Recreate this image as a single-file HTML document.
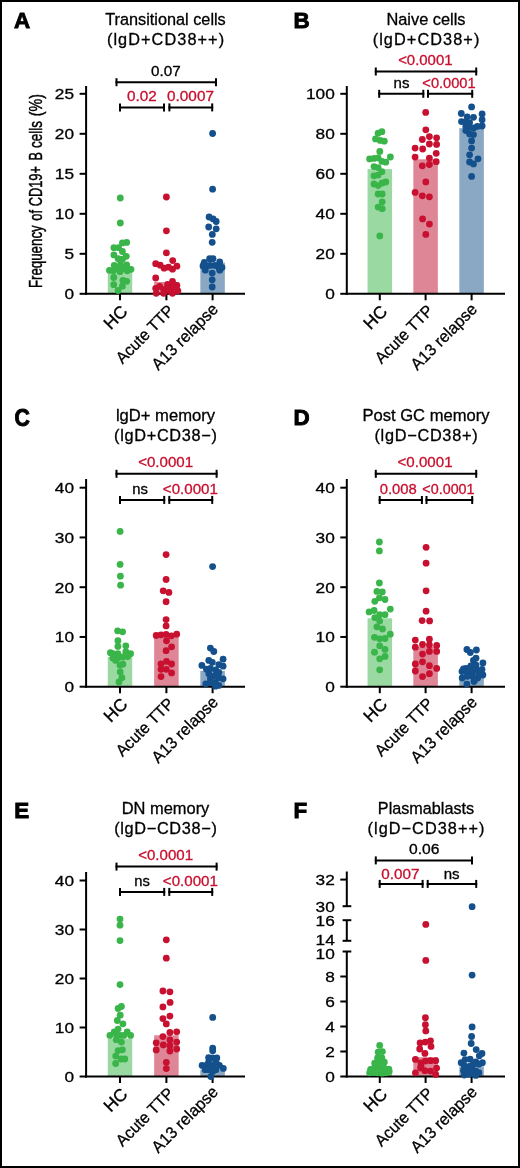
<!DOCTYPE html>
<html><head><meta charset="utf-8"><style>
html,body{margin:0;padding:0;background:#fff;}
body{width:520px;height:1168px;overflow:hidden;}
svg{display:block;will-change:transform;}
text{font-family:"Liberation Sans", sans-serif;}
text:not([stroke]){stroke:#000;stroke-width:0.3px;}
text[fill="#c8102e"]{stroke:#c8102e;}
</style></head><body>
<svg width="520" height="1168" viewBox="0 0 520 1168" font-family='"Liberation Sans", sans-serif'>
<rect x="0" y="0" width="520" height="1168" fill="#fff"/>
<text x="14.10" y="28.20" font-size="22.4" font-weight="bold" stroke="#000" stroke-width="0.9">A</text>
<text x="165.50" y="25.00" font-size="16.3" text-anchor="middle" textLength="120.5" lengthAdjust="spacingAndGlyphs">Transitional cells</text>
<text x="165.50" y="45.00" font-size="16.3" text-anchor="middle" textLength="117.2" lengthAdjust="spacing">(lgD+CD38++)</text>
<rect x="107.75" y="271.00" width="24.50" height="22.80" fill="#9bd9a2"/>
<rect x="154.15" y="282.00" width="24.50" height="11.80" fill="#de8696"/>
<rect x="200.35" y="262.50" width="24.50" height="31.30" fill="#8aa8c4"/>
<line x1="86.10" y1="86.00" x2="86.10" y2="294.80" stroke="#000" stroke-width="2"/>
<line x1="79.60" y1="293.80" x2="86.10" y2="293.80" stroke="#000" stroke-width="2"/>
<text x="74.10" y="299.30" font-size="15.5" text-anchor="end" textLength="9.61" lengthAdjust="spacingAndGlyphs">0</text>
<line x1="79.60" y1="253.80" x2="86.10" y2="253.80" stroke="#000" stroke-width="2"/>
<text x="74.10" y="259.30" font-size="15.5" text-anchor="end" textLength="9.61" lengthAdjust="spacingAndGlyphs">5</text>
<line x1="79.60" y1="213.80" x2="86.10" y2="213.80" stroke="#000" stroke-width="2"/>
<text x="74.10" y="219.30" font-size="15.5" text-anchor="end" textLength="19.22" lengthAdjust="spacingAndGlyphs">10</text>
<line x1="79.60" y1="173.80" x2="86.10" y2="173.80" stroke="#000" stroke-width="2"/>
<text x="74.10" y="179.30" font-size="15.5" text-anchor="end" textLength="19.22" lengthAdjust="spacingAndGlyphs">15</text>
<line x1="79.60" y1="133.80" x2="86.10" y2="133.80" stroke="#000" stroke-width="2"/>
<text x="74.10" y="139.30" font-size="15.5" text-anchor="end" textLength="19.22" lengthAdjust="spacingAndGlyphs">20</text>
<line x1="79.60" y1="93.80" x2="86.10" y2="93.80" stroke="#000" stroke-width="2"/>
<text x="74.10" y="99.30" font-size="15.5" text-anchor="end" textLength="19.22" lengthAdjust="spacingAndGlyphs">25</text>
<line x1="85.10" y1="293.80" x2="245.00" y2="293.80" stroke="#000" stroke-width="2"/>
<line x1="120.00" y1="293.80" x2="120.00" y2="300.30" stroke="#000" stroke-width="2"/>
<line x1="166.40" y1="293.80" x2="166.40" y2="300.30" stroke="#000" stroke-width="2"/>
<line x1="212.60" y1="293.80" x2="212.60" y2="300.30" stroke="#000" stroke-width="2"/>
<text x="128.60" y="312.50" font-size="17.5" text-anchor="end"  transform="rotate(-45 128.60 312.50)">HC</text>
<text x="175.10" y="311.80" font-size="16.5" text-anchor="end" textLength="74.5" lengthAdjust="spacingAndGlyphs" transform="rotate(-45 175.10 311.80)">Acute TTP</text>
<text x="219.10" y="310.20" font-size="16.5" text-anchor="end" textLength="86" lengthAdjust="spacingAndGlyphs" transform="rotate(-45 219.10 310.20)">A13 relapse</text>
<circle cx="120.30" cy="198.00" r="3.4" fill="#39b54a"/>
<circle cx="120.30" cy="223.00" r="3.4" fill="#39b54a"/>
<circle cx="120.50" cy="264.50" r="3.4" fill="#39b54a"/>
<circle cx="126.70" cy="242.40" r="3.4" fill="#39b54a"/>
<circle cx="122.40" cy="242.90" r="3.4" fill="#39b54a"/>
<circle cx="113.90" cy="247.70" r="3.4" fill="#39b54a"/>
<circle cx="118.60" cy="247.70" r="3.4" fill="#39b54a"/>
<circle cx="122.40" cy="251.50" r="3.4" fill="#39b54a"/>
<circle cx="113.90" cy="254.90" r="3.4" fill="#39b54a"/>
<circle cx="126.25" cy="256.30" r="3.4" fill="#39b54a"/>
<circle cx="118.10" cy="258.75" r="3.4" fill="#39b54a"/>
<circle cx="122.40" cy="259.20" r="3.4" fill="#39b54a"/>
<circle cx="114.20" cy="265.50" r="3.4" fill="#39b54a"/>
<circle cx="126.70" cy="265.00" r="3.4" fill="#39b54a"/>
<circle cx="109.40" cy="270.30" r="3.4" fill="#39b54a"/>
<circle cx="131.00" cy="269.30" r="3.4" fill="#39b54a"/>
<circle cx="113.30" cy="270.80" r="3.4" fill="#39b54a"/>
<circle cx="118.10" cy="268.80" r="3.4" fill="#39b54a"/>
<circle cx="122.90" cy="268.80" r="3.4" fill="#39b54a"/>
<circle cx="127.20" cy="270.80" r="3.4" fill="#39b54a"/>
<circle cx="120.00" cy="271.70" r="3.4" fill="#39b54a"/>
<circle cx="113.75" cy="277.50" r="3.4" fill="#39b54a"/>
<circle cx="122.90" cy="280.40" r="3.4" fill="#39b54a"/>
<circle cx="126.70" cy="281.30" r="3.4" fill="#39b54a"/>
<circle cx="113.75" cy="284.70" r="3.4" fill="#39b54a"/>
<circle cx="122.40" cy="286.20" r="3.4" fill="#39b54a"/>
<circle cx="118.10" cy="290.50" r="3.4" fill="#39b54a"/>
<circle cx="166.40" cy="197.00" r="3.4" fill="#c81030"/>
<circle cx="166.40" cy="230.80" r="3.4" fill="#c81030"/>
<circle cx="166.40" cy="252.90" r="3.4" fill="#c81030"/>
<circle cx="172.70" cy="260.60" r="3.4" fill="#c81030"/>
<circle cx="155.70" cy="263.70" r="3.4" fill="#c81030"/>
<circle cx="160.20" cy="265.20" r="3.4" fill="#c81030"/>
<circle cx="164.10" cy="268.20" r="3.4" fill="#c81030"/>
<circle cx="168.50" cy="267.20" r="3.4" fill="#c81030"/>
<circle cx="172.50" cy="269.20" r="3.4" fill="#c81030"/>
<circle cx="176.90" cy="266.20" r="3.4" fill="#c81030"/>
<circle cx="155.70" cy="278.00" r="3.4" fill="#c81030"/>
<circle cx="172.50" cy="281.50" r="3.4" fill="#c81030"/>
<circle cx="167.60" cy="284.40" r="3.4" fill="#c81030"/>
<circle cx="176.90" cy="285.40" r="3.4" fill="#c81030"/>
<circle cx="155.70" cy="288.30" r="3.4" fill="#c81030"/>
<circle cx="159.70" cy="286.40" r="3.4" fill="#c81030"/>
<circle cx="163.60" cy="289.30" r="3.4" fill="#c81030"/>
<circle cx="172.50" cy="287.40" r="3.4" fill="#c81030"/>
<circle cx="177.90" cy="290.80" r="3.4" fill="#c81030"/>
<circle cx="156.20" cy="293.30" r="3.4" fill="#c81030"/>
<circle cx="163.60" cy="293.30" r="3.4" fill="#c81030"/>
<circle cx="172.50" cy="293.30" r="3.4" fill="#c81030"/>
<circle cx="168.50" cy="290.30" r="3.4" fill="#c81030"/>
<circle cx="212.60" cy="133.50" r="3.4" fill="#14508c"/>
<circle cx="212.60" cy="189.20" r="3.4" fill="#14508c"/>
<circle cx="209.10" cy="217.00" r="3.4" fill="#14508c"/>
<circle cx="213.10" cy="218.90" r="3.4" fill="#14508c"/>
<circle cx="216.20" cy="221.50" r="3.4" fill="#14508c"/>
<circle cx="208.70" cy="227.00" r="3.4" fill="#14508c"/>
<circle cx="216.20" cy="228.80" r="3.4" fill="#14508c"/>
<circle cx="212.30" cy="234.40" r="3.4" fill="#14508c"/>
<circle cx="212.20" cy="242.30" r="3.4" fill="#14508c"/>
<circle cx="209.60" cy="258.70" r="3.4" fill="#14508c"/>
<circle cx="213.00" cy="258.70" r="3.4" fill="#14508c"/>
<circle cx="204.30" cy="262.50" r="3.4" fill="#14508c"/>
<circle cx="219.70" cy="262.00" r="3.4" fill="#14508c"/>
<circle cx="203.00" cy="266.00" r="3.4" fill="#14508c"/>
<circle cx="206.20" cy="266.30" r="3.4" fill="#14508c"/>
<circle cx="210.10" cy="265.40" r="3.4" fill="#14508c"/>
<circle cx="214.90" cy="265.40" r="3.4" fill="#14508c"/>
<circle cx="222.00" cy="267.50" r="3.4" fill="#14508c"/>
<circle cx="218.70" cy="267.30" r="3.4" fill="#14508c"/>
<circle cx="205.30" cy="270.20" r="3.4" fill="#14508c"/>
<circle cx="219.70" cy="270.20" r="3.4" fill="#14508c"/>
<circle cx="212.20" cy="273.10" r="3.4" fill="#14508c"/>
<circle cx="212.20" cy="279.80" r="3.4" fill="#14508c"/>
<circle cx="212.20" cy="287.00" r="3.4" fill="#14508c"/>
<line x1="115.50" y1="82.20" x2="217.00" y2="82.20" stroke="#000" stroke-width="2"/>
<line x1="116.50" y1="78.20" x2="116.50" y2="86.20" stroke="#000" stroke-width="2"/>
<line x1="216.00" y1="78.20" x2="216.00" y2="86.20" stroke="#000" stroke-width="2"/>
<text x="165.85" y="75.60" font-size="14" text-anchor="middle" fill="#000" textLength="29.6" lengthAdjust="spacingAndGlyphs">0.07</text>
<line x1="119.00" y1="107.40" x2="165.00" y2="107.40" stroke="#000" stroke-width="2"/>
<line x1="120.00" y1="103.40" x2="120.00" y2="111.40" stroke="#000" stroke-width="2"/>
<line x1="164.00" y1="103.40" x2="164.00" y2="111.40" stroke="#000" stroke-width="2"/>
<text x="141.95" y="101.20" font-size="14" text-anchor="middle" fill="#c8102e" textLength="29.8" lengthAdjust="spacingAndGlyphs">0.02</text>
<line x1="168.40" y1="107.40" x2="213.20" y2="107.40" stroke="#000" stroke-width="2"/>
<line x1="169.40" y1="103.40" x2="169.40" y2="111.40" stroke="#000" stroke-width="2"/>
<line x1="212.20" y1="103.40" x2="212.20" y2="111.40" stroke="#000" stroke-width="2"/>
<text x="190.50" y="101.20" font-size="14" text-anchor="middle" fill="#c8102e" textLength="46.9" lengthAdjust="spacingAndGlyphs">0.0007</text>
<text x="293.60" y="28.20" font-size="22.4" font-weight="bold" stroke="#000" stroke-width="0.9">B</text>
<text x="426.00" y="25.00" font-size="16.3" text-anchor="middle" textLength="79.1" lengthAdjust="spacingAndGlyphs">Naive cells</text>
<text x="426.00" y="45.00" font-size="16.3" text-anchor="middle" textLength="106.7" lengthAdjust="spacing">(lgD+CD38+)</text>
<rect x="367.55" y="169.10" width="24.50" height="124.70" fill="#9bd9a2"/>
<rect x="413.35" y="159.30" width="24.50" height="134.50" fill="#de8696"/>
<rect x="459.35" y="128.10" width="24.50" height="165.70" fill="#8aa8c4"/>
<line x1="346.80" y1="86.00" x2="346.80" y2="294.80" stroke="#000" stroke-width="2"/>
<line x1="340.30" y1="293.80" x2="346.80" y2="293.80" stroke="#000" stroke-width="2"/>
<text x="334.80" y="299.30" font-size="15.5" text-anchor="end" textLength="9.61" lengthAdjust="spacingAndGlyphs">0</text>
<line x1="340.30" y1="253.80" x2="346.80" y2="253.80" stroke="#000" stroke-width="2"/>
<text x="334.80" y="259.30" font-size="15.5" text-anchor="end" textLength="19.22" lengthAdjust="spacingAndGlyphs">20</text>
<line x1="340.30" y1="213.80" x2="346.80" y2="213.80" stroke="#000" stroke-width="2"/>
<text x="334.80" y="219.30" font-size="15.5" text-anchor="end" textLength="19.22" lengthAdjust="spacingAndGlyphs">40</text>
<line x1="340.30" y1="173.80" x2="346.80" y2="173.80" stroke="#000" stroke-width="2"/>
<text x="334.80" y="179.30" font-size="15.5" text-anchor="end" textLength="19.22" lengthAdjust="spacingAndGlyphs">60</text>
<line x1="340.30" y1="133.80" x2="346.80" y2="133.80" stroke="#000" stroke-width="2"/>
<text x="334.80" y="139.30" font-size="15.5" text-anchor="end" textLength="19.22" lengthAdjust="spacingAndGlyphs">80</text>
<line x1="340.30" y1="93.80" x2="346.80" y2="93.80" stroke="#000" stroke-width="2"/>
<text x="334.80" y="99.30" font-size="15.5" text-anchor="end" textLength="28.82" lengthAdjust="spacingAndGlyphs">100</text>
<line x1="345.80" y1="293.80" x2="505.00" y2="293.80" stroke="#000" stroke-width="2"/>
<line x1="379.80" y1="293.80" x2="379.80" y2="300.30" stroke="#000" stroke-width="2"/>
<line x1="425.60" y1="293.80" x2="425.60" y2="300.30" stroke="#000" stroke-width="2"/>
<line x1="471.60" y1="293.80" x2="471.60" y2="300.30" stroke="#000" stroke-width="2"/>
<text x="388.40" y="312.50" font-size="17.5" text-anchor="end"  transform="rotate(-45 388.40 312.50)">HC</text>
<text x="434.30" y="311.80" font-size="16.5" text-anchor="end" textLength="74.5" lengthAdjust="spacingAndGlyphs" transform="rotate(-45 434.30 311.80)">Acute TTP</text>
<text x="478.10" y="310.20" font-size="16.5" text-anchor="end" textLength="86" lengthAdjust="spacingAndGlyphs" transform="rotate(-45 478.10 310.20)">A13 relapse</text>
<circle cx="381.90" cy="131.70" r="3.4" fill="#39b54a"/>
<circle cx="378.10" cy="133.20" r="3.4" fill="#39b54a"/>
<circle cx="375.50" cy="138.90" r="3.4" fill="#39b54a"/>
<circle cx="380.20" cy="140.40" r="3.4" fill="#39b54a"/>
<circle cx="384.30" cy="141.20" r="3.4" fill="#39b54a"/>
<circle cx="379.80" cy="151.50" r="3.4" fill="#39b54a"/>
<circle cx="369.60" cy="158.90" r="3.4" fill="#39b54a"/>
<circle cx="374.00" cy="158.40" r="3.4" fill="#39b54a"/>
<circle cx="378.10" cy="157.90" r="3.4" fill="#39b54a"/>
<circle cx="390.40" cy="157.00" r="3.4" fill="#39b54a"/>
<circle cx="381.90" cy="161.40" r="3.4" fill="#39b54a"/>
<circle cx="385.80" cy="162.20" r="3.4" fill="#39b54a"/>
<circle cx="374.00" cy="166.60" r="3.4" fill="#39b54a"/>
<circle cx="378.10" cy="167.60" r="3.4" fill="#39b54a"/>
<circle cx="381.90" cy="171.70" r="3.4" fill="#39b54a"/>
<circle cx="374.00" cy="175.80" r="3.4" fill="#39b54a"/>
<circle cx="378.10" cy="175.10" r="3.4" fill="#39b54a"/>
<circle cx="374.00" cy="184.00" r="3.4" fill="#39b54a"/>
<circle cx="378.10" cy="185.60" r="3.4" fill="#39b54a"/>
<circle cx="382.20" cy="183.00" r="3.4" fill="#39b54a"/>
<circle cx="385.80" cy="182.00" r="3.4" fill="#39b54a"/>
<circle cx="378.10" cy="194.00" r="3.4" fill="#39b54a"/>
<circle cx="382.20" cy="194.00" r="3.4" fill="#39b54a"/>
<circle cx="382.20" cy="201.80" r="3.4" fill="#39b54a"/>
<circle cx="378.10" cy="207.10" r="3.4" fill="#39b54a"/>
<circle cx="382.20" cy="208.70" r="3.4" fill="#39b54a"/>
<circle cx="379.80" cy="235.90" r="3.4" fill="#39b54a"/>
<circle cx="425.70" cy="112.40" r="3.4" fill="#c81030"/>
<circle cx="425.80" cy="129.80" r="3.4" fill="#c81030"/>
<circle cx="429.40" cy="136.60" r="3.4" fill="#c81030"/>
<circle cx="436.60" cy="137.80" r="3.4" fill="#c81030"/>
<circle cx="422.30" cy="139.50" r="3.4" fill="#c81030"/>
<circle cx="429.40" cy="144.00" r="3.4" fill="#c81030"/>
<circle cx="436.60" cy="144.40" r="3.4" fill="#c81030"/>
<circle cx="415.10" cy="148.10" r="3.4" fill="#c81030"/>
<circle cx="422.70" cy="149.00" r="3.4" fill="#c81030"/>
<circle cx="436.20" cy="153.30" r="3.4" fill="#c81030"/>
<circle cx="415.10" cy="157.10" r="3.4" fill="#c81030"/>
<circle cx="429.40" cy="158.10" r="3.4" fill="#c81030"/>
<circle cx="436.20" cy="161.70" r="3.4" fill="#c81030"/>
<circle cx="422.30" cy="165.80" r="3.4" fill="#c81030"/>
<circle cx="429.40" cy="164.50" r="3.4" fill="#c81030"/>
<circle cx="425.80" cy="181.90" r="3.4" fill="#c81030"/>
<circle cx="415.10" cy="192.40" r="3.4" fill="#c81030"/>
<circle cx="422.30" cy="195.80" r="3.4" fill="#c81030"/>
<circle cx="429.40" cy="196.80" r="3.4" fill="#c81030"/>
<circle cx="422.60" cy="218.90" r="3.4" fill="#c81030"/>
<circle cx="429.40" cy="224.10" r="3.4" fill="#c81030"/>
<circle cx="425.80" cy="234.40" r="3.4" fill="#c81030"/>
<circle cx="471.60" cy="106.90" r="3.4" fill="#14508c"/>
<circle cx="461.30" cy="113.50" r="3.4" fill="#14508c"/>
<circle cx="482.10" cy="113.90" r="3.4" fill="#14508c"/>
<circle cx="467.20" cy="116.80" r="3.4" fill="#14508c"/>
<circle cx="473.50" cy="117.30" r="3.4" fill="#14508c"/>
<circle cx="461.50" cy="121.60" r="3.4" fill="#14508c"/>
<circle cx="465.80" cy="121.60" r="3.4" fill="#14508c"/>
<circle cx="469.60" cy="122.60" r="3.4" fill="#14508c"/>
<circle cx="482.10" cy="119.70" r="3.4" fill="#14508c"/>
<circle cx="477.30" cy="126.40" r="3.4" fill="#14508c"/>
<circle cx="482.10" cy="126.00" r="3.4" fill="#14508c"/>
<circle cx="469.60" cy="127.40" r="3.4" fill="#14508c"/>
<circle cx="465.80" cy="130.60" r="3.4" fill="#14508c"/>
<circle cx="473.50" cy="127.90" r="3.4" fill="#14508c"/>
<circle cx="469.60" cy="134.10" r="3.4" fill="#14508c"/>
<circle cx="473.50" cy="134.60" r="3.4" fill="#14508c"/>
<circle cx="471.60" cy="140.90" r="3.4" fill="#14508c"/>
<circle cx="471.60" cy="148.10" r="3.4" fill="#14508c"/>
<circle cx="469.60" cy="154.80" r="3.4" fill="#14508c"/>
<circle cx="478.00" cy="158.80" r="3.4" fill="#14508c"/>
<circle cx="469.60" cy="162.00" r="3.4" fill="#14508c"/>
<circle cx="473.50" cy="163.90" r="3.4" fill="#14508c"/>
<circle cx="471.60" cy="176.40" r="3.4" fill="#14508c"/>
<circle cx="465.80" cy="126.40" r="3.4" fill="#14508c"/>
<line x1="374.80" y1="71.50" x2="477.20" y2="71.50" stroke="#000" stroke-width="2"/>
<line x1="375.80" y1="67.50" x2="375.80" y2="75.50" stroke="#000" stroke-width="2"/>
<line x1="476.20" y1="67.50" x2="476.20" y2="75.50" stroke="#000" stroke-width="2"/>
<text x="425.35" y="65.20" font-size="14" text-anchor="middle" fill="#c8102e" textLength="54.4" lengthAdjust="spacingAndGlyphs">&lt;0.0001</text>
<line x1="378.20" y1="93.80" x2="424.30" y2="93.80" stroke="#000" stroke-width="2"/>
<line x1="379.20" y1="89.80" x2="379.20" y2="97.80" stroke="#000" stroke-width="2"/>
<line x1="423.30" y1="89.80" x2="423.30" y2="97.80" stroke="#000" stroke-width="2"/>
<text x="401.50" y="87.60" font-size="14" text-anchor="middle" fill="#000" textLength="15.9" lengthAdjust="spacingAndGlyphs">ns</text>
<line x1="427.00" y1="93.80" x2="473.20" y2="93.80" stroke="#000" stroke-width="2"/>
<line x1="428.00" y1="89.80" x2="428.00" y2="97.80" stroke="#000" stroke-width="2"/>
<line x1="472.20" y1="89.80" x2="472.20" y2="97.80" stroke="#000" stroke-width="2"/>
<text x="449.00" y="87.60" font-size="14" text-anchor="middle" fill="#c8102e" textLength="53.3" lengthAdjust="spacingAndGlyphs">&lt;0.0001</text>
<text x="0" y="0" font-size="22.4" font-weight="bold" stroke="#000" stroke-width="0.9" transform="translate(14.60 425.50) scale(0.95 1.09)">C</text>
<text x="165.50" y="420.90" font-size="16.3" text-anchor="middle" textLength="99.2" lengthAdjust="spacingAndGlyphs">lgD+ memory</text>
<text x="165.50" y="441.00" font-size="16.3" text-anchor="middle" textLength="102.9" lengthAdjust="spacing">(lgD+CD38−)</text>
<rect x="107.75" y="657.00" width="24.50" height="29.70" fill="#9bd9a2"/>
<rect x="154.15" y="635.50" width="24.50" height="51.20" fill="#de8696"/>
<rect x="200.35" y="670.90" width="24.50" height="15.80" fill="#8aa8c4"/>
<line x1="86.10" y1="479.00" x2="86.10" y2="687.70" stroke="#000" stroke-width="2"/>
<line x1="79.60" y1="686.70" x2="86.10" y2="686.70" stroke="#000" stroke-width="2"/>
<text x="74.10" y="692.20" font-size="15.5" text-anchor="end" textLength="9.61" lengthAdjust="spacingAndGlyphs">0</text>
<line x1="79.60" y1="636.95" x2="86.10" y2="636.95" stroke="#000" stroke-width="2"/>
<text x="74.10" y="642.45" font-size="15.5" text-anchor="end" textLength="19.22" lengthAdjust="spacingAndGlyphs">10</text>
<line x1="79.60" y1="587.20" x2="86.10" y2="587.20" stroke="#000" stroke-width="2"/>
<text x="74.10" y="592.70" font-size="15.5" text-anchor="end" textLength="19.22" lengthAdjust="spacingAndGlyphs">20</text>
<line x1="79.60" y1="537.45" x2="86.10" y2="537.45" stroke="#000" stroke-width="2"/>
<text x="74.10" y="542.95" font-size="15.5" text-anchor="end" textLength="19.22" lengthAdjust="spacingAndGlyphs">30</text>
<line x1="79.60" y1="487.70" x2="86.10" y2="487.70" stroke="#000" stroke-width="2"/>
<text x="74.10" y="493.20" font-size="15.5" text-anchor="end" textLength="19.22" lengthAdjust="spacingAndGlyphs">40</text>
<line x1="85.10" y1="686.70" x2="245.00" y2="686.70" stroke="#000" stroke-width="2"/>
<line x1="120.00" y1="686.70" x2="120.00" y2="693.20" stroke="#000" stroke-width="2"/>
<line x1="166.40" y1="686.70" x2="166.40" y2="693.20" stroke="#000" stroke-width="2"/>
<line x1="212.60" y1="686.70" x2="212.60" y2="693.20" stroke="#000" stroke-width="2"/>
<text x="128.60" y="705.40" font-size="17.5" text-anchor="end"  transform="rotate(-45 128.60 705.40)">HC</text>
<text x="175.10" y="704.70" font-size="16.5" text-anchor="end" textLength="74.5" lengthAdjust="spacingAndGlyphs" transform="rotate(-45 175.10 704.70)">Acute TTP</text>
<text x="219.10" y="703.10" font-size="16.5" text-anchor="end" textLength="86" lengthAdjust="spacingAndGlyphs" transform="rotate(-45 219.10 703.10)">A13 relapse</text>
<circle cx="120.10" cy="531.40" r="3.4" fill="#39b54a"/>
<circle cx="120.10" cy="564.40" r="3.4" fill="#39b54a"/>
<circle cx="120.40" cy="576.20" r="3.4" fill="#39b54a"/>
<circle cx="120.60" cy="585.20" r="3.4" fill="#39b54a"/>
<circle cx="117.60" cy="630.80" r="3.4" fill="#39b54a"/>
<circle cx="122.60" cy="631.80" r="3.4" fill="#39b54a"/>
<circle cx="117.90" cy="640.70" r="3.4" fill="#39b54a"/>
<circle cx="117.90" cy="646.40" r="3.4" fill="#39b54a"/>
<circle cx="125.80" cy="645.80" r="3.4" fill="#39b54a"/>
<circle cx="110.40" cy="652.70" r="3.4" fill="#39b54a"/>
<circle cx="112.80" cy="653.70" r="3.4" fill="#39b54a"/>
<circle cx="117.90" cy="653.70" r="3.4" fill="#39b54a"/>
<circle cx="125.80" cy="651.70" r="3.4" fill="#39b54a"/>
<circle cx="130.60" cy="653.70" r="3.4" fill="#39b54a"/>
<circle cx="112.80" cy="658.00" r="3.4" fill="#39b54a"/>
<circle cx="117.90" cy="658.00" r="3.4" fill="#39b54a"/>
<circle cx="122.90" cy="657.00" r="3.4" fill="#39b54a"/>
<circle cx="127.70" cy="656.50" r="3.4" fill="#39b54a"/>
<circle cx="115.70" cy="660.40" r="3.4" fill="#39b54a"/>
<circle cx="120.00" cy="665.20" r="3.4" fill="#39b54a"/>
<circle cx="122.90" cy="664.20" r="3.4" fill="#39b54a"/>
<circle cx="120.20" cy="671.90" r="3.4" fill="#39b54a"/>
<circle cx="121.90" cy="677.70" r="3.4" fill="#39b54a"/>
<circle cx="119.00" cy="682.00" r="3.4" fill="#39b54a"/>
<circle cx="166.10" cy="554.60" r="3.4" fill="#c81030"/>
<circle cx="166.10" cy="579.50" r="3.4" fill="#c81030"/>
<circle cx="163.20" cy="590.80" r="3.4" fill="#c81030"/>
<circle cx="168.90" cy="592.40" r="3.4" fill="#c81030"/>
<circle cx="166.10" cy="601.70" r="3.4" fill="#c81030"/>
<circle cx="166.10" cy="619.60" r="3.4" fill="#c81030"/>
<circle cx="166.10" cy="625.90" r="3.4" fill="#c81030"/>
<circle cx="156.20" cy="635.50" r="3.4" fill="#c81030"/>
<circle cx="161.00" cy="634.80" r="3.4" fill="#c81030"/>
<circle cx="166.10" cy="634.40" r="3.4" fill="#c81030"/>
<circle cx="171.40" cy="635.80" r="3.4" fill="#c81030"/>
<circle cx="176.70" cy="634.20" r="3.4" fill="#c81030"/>
<circle cx="166.50" cy="640.80" r="3.4" fill="#c81030"/>
<circle cx="171.60" cy="646.80" r="3.4" fill="#c81030"/>
<circle cx="166.10" cy="650.70" r="3.4" fill="#c81030"/>
<circle cx="161.00" cy="664.00" r="3.4" fill="#c81030"/>
<circle cx="166.50" cy="661.40" r="3.4" fill="#c81030"/>
<circle cx="171.60" cy="664.00" r="3.4" fill="#c81030"/>
<circle cx="161.00" cy="669.30" r="3.4" fill="#c81030"/>
<circle cx="166.30" cy="669.30" r="3.4" fill="#c81030"/>
<circle cx="171.60" cy="672.90" r="3.4" fill="#c81030"/>
<circle cx="161.00" cy="676.60" r="3.4" fill="#c81030"/>
<circle cx="212.60" cy="566.60" r="3.4" fill="#14508c"/>
<circle cx="210.40" cy="648.10" r="3.4" fill="#14508c"/>
<circle cx="213.80" cy="651.50" r="3.4" fill="#14508c"/>
<circle cx="208.80" cy="660.40" r="3.4" fill="#14508c"/>
<circle cx="212.30" cy="662.30" r="3.4" fill="#14508c"/>
<circle cx="223.10" cy="659.20" r="3.4" fill="#14508c"/>
<circle cx="201.90" cy="665.40" r="3.4" fill="#14508c"/>
<circle cx="218.80" cy="664.60" r="3.4" fill="#14508c"/>
<circle cx="223.10" cy="666.20" r="3.4" fill="#14508c"/>
<circle cx="206.50" cy="669.20" r="3.4" fill="#14508c"/>
<circle cx="210.40" cy="668.50" r="3.4" fill="#14508c"/>
<circle cx="215.80" cy="670.00" r="3.4" fill="#14508c"/>
<circle cx="208.80" cy="673.80" r="3.4" fill="#14508c"/>
<circle cx="218.80" cy="672.30" r="3.4" fill="#14508c"/>
<circle cx="214.20" cy="676.20" r="3.4" fill="#14508c"/>
<circle cx="210.40" cy="678.80" r="3.4" fill="#14508c"/>
<circle cx="218.80" cy="677.70" r="3.4" fill="#14508c"/>
<circle cx="223.10" cy="678.80" r="3.4" fill="#14508c"/>
<circle cx="205.80" cy="683.80" r="3.4" fill="#14508c"/>
<circle cx="210.40" cy="682.70" r="3.4" fill="#14508c"/>
<circle cx="215.40" cy="682.70" r="3.4" fill="#14508c"/>
<circle cx="218.80" cy="685.40" r="3.4" fill="#14508c"/>
<circle cx="215.40" cy="686.20" r="3.4" fill="#14508c"/>
<line x1="115.50" y1="473.80" x2="217.60" y2="473.80" stroke="#000" stroke-width="2"/>
<line x1="116.50" y1="469.80" x2="116.50" y2="477.80" stroke="#000" stroke-width="2"/>
<line x1="216.60" y1="469.80" x2="216.60" y2="477.80" stroke="#000" stroke-width="2"/>
<text x="165.60" y="467.10" font-size="14" text-anchor="middle" fill="#c8102e" textLength="54.9" lengthAdjust="spacingAndGlyphs">&lt;0.0001</text>
<line x1="119.00" y1="499.90" x2="165.20" y2="499.90" stroke="#000" stroke-width="2"/>
<line x1="120.00" y1="495.90" x2="120.00" y2="503.90" stroke="#000" stroke-width="2"/>
<line x1="164.20" y1="495.90" x2="164.20" y2="503.90" stroke="#000" stroke-width="2"/>
<text x="140.20" y="493.60" font-size="14" text-anchor="middle" fill="#000" textLength="15.7" lengthAdjust="spacingAndGlyphs">ns</text>
<line x1="168.30" y1="499.90" x2="213.20" y2="499.90" stroke="#000" stroke-width="2"/>
<line x1="169.30" y1="495.90" x2="169.30" y2="503.90" stroke="#000" stroke-width="2"/>
<line x1="212.20" y1="495.90" x2="212.20" y2="503.90" stroke="#000" stroke-width="2"/>
<text x="190.40" y="493.60" font-size="14" text-anchor="middle" fill="#c8102e" textLength="55.1" lengthAdjust="spacingAndGlyphs">&lt;0.0001</text>
<text x="293.60" y="425.10" font-size="22.4" font-weight="bold" stroke="#000" stroke-width="0.9">D</text>
<text x="426.00" y="420.90" font-size="16.3" text-anchor="middle" textLength="127.0" lengthAdjust="spacingAndGlyphs">Post GC memory</text>
<text x="426.00" y="441.00" font-size="16.3" text-anchor="middle" textLength="103.2" lengthAdjust="spacing">(lgD−CD38+)</text>
<rect x="367.55" y="618.30" width="24.50" height="68.40" fill="#9bd9a2"/>
<rect x="413.35" y="646.80" width="24.50" height="39.90" fill="#de8696"/>
<rect x="459.35" y="678.00" width="24.50" height="8.70" fill="#8aa8c4"/>
<line x1="346.80" y1="479.00" x2="346.80" y2="687.70" stroke="#000" stroke-width="2"/>
<line x1="340.30" y1="686.70" x2="346.80" y2="686.70" stroke="#000" stroke-width="2"/>
<text x="334.80" y="692.20" font-size="15.5" text-anchor="end" textLength="9.61" lengthAdjust="spacingAndGlyphs">0</text>
<line x1="340.30" y1="636.95" x2="346.80" y2="636.95" stroke="#000" stroke-width="2"/>
<text x="334.80" y="642.45" font-size="15.5" text-anchor="end" textLength="19.22" lengthAdjust="spacingAndGlyphs">10</text>
<line x1="340.30" y1="587.20" x2="346.80" y2="587.20" stroke="#000" stroke-width="2"/>
<text x="334.80" y="592.70" font-size="15.5" text-anchor="end" textLength="19.22" lengthAdjust="spacingAndGlyphs">20</text>
<line x1="340.30" y1="537.45" x2="346.80" y2="537.45" stroke="#000" stroke-width="2"/>
<text x="334.80" y="542.95" font-size="15.5" text-anchor="end" textLength="19.22" lengthAdjust="spacingAndGlyphs">30</text>
<line x1="340.30" y1="487.70" x2="346.80" y2="487.70" stroke="#000" stroke-width="2"/>
<text x="334.80" y="493.20" font-size="15.5" text-anchor="end" textLength="19.22" lengthAdjust="spacingAndGlyphs">40</text>
<line x1="345.80" y1="686.70" x2="505.00" y2="686.70" stroke="#000" stroke-width="2"/>
<line x1="379.80" y1="686.70" x2="379.80" y2="693.20" stroke="#000" stroke-width="2"/>
<line x1="425.60" y1="686.70" x2="425.60" y2="693.20" stroke="#000" stroke-width="2"/>
<line x1="471.60" y1="686.70" x2="471.60" y2="693.20" stroke="#000" stroke-width="2"/>
<text x="388.40" y="705.40" font-size="17.5" text-anchor="end"  transform="rotate(-45 388.40 705.40)">HC</text>
<text x="434.30" y="704.70" font-size="16.5" text-anchor="end" textLength="74.5" lengthAdjust="spacingAndGlyphs" transform="rotate(-45 434.30 704.70)">Acute TTP</text>
<text x="478.10" y="703.10" font-size="16.5" text-anchor="end" textLength="86" lengthAdjust="spacingAndGlyphs" transform="rotate(-45 478.10 703.10)">A13 relapse</text>
<circle cx="379.40" cy="542.00" r="3.4" fill="#39b54a"/>
<circle cx="379.40" cy="550.90" r="3.4" fill="#39b54a"/>
<circle cx="379.40" cy="583.00" r="3.4" fill="#39b54a"/>
<circle cx="376.90" cy="591.40" r="3.4" fill="#39b54a"/>
<circle cx="382.30" cy="591.90" r="3.4" fill="#39b54a"/>
<circle cx="379.40" cy="597.80" r="3.4" fill="#39b54a"/>
<circle cx="374.80" cy="601.30" r="3.4" fill="#39b54a"/>
<circle cx="385.00" cy="599.50" r="3.4" fill="#39b54a"/>
<circle cx="369.10" cy="611.90" r="3.4" fill="#39b54a"/>
<circle cx="374.10" cy="610.50" r="3.4" fill="#39b54a"/>
<circle cx="390.30" cy="609.10" r="3.4" fill="#39b54a"/>
<circle cx="379.70" cy="614.70" r="3.4" fill="#39b54a"/>
<circle cx="385.00" cy="614.70" r="3.4" fill="#39b54a"/>
<circle cx="374.80" cy="617.60" r="3.4" fill="#39b54a"/>
<circle cx="379.70" cy="621.10" r="3.4" fill="#39b54a"/>
<circle cx="376.90" cy="626.80" r="3.4" fill="#39b54a"/>
<circle cx="382.50" cy="628.90" r="3.4" fill="#39b54a"/>
<circle cx="390.30" cy="634.20" r="3.4" fill="#39b54a"/>
<circle cx="374.50" cy="637.30" r="3.4" fill="#39b54a"/>
<circle cx="379.70" cy="638.80" r="3.4" fill="#39b54a"/>
<circle cx="385.00" cy="638.50" r="3.4" fill="#39b54a"/>
<circle cx="379.70" cy="645.80" r="3.4" fill="#39b54a"/>
<circle cx="385.00" cy="649.40" r="3.4" fill="#39b54a"/>
<circle cx="374.50" cy="652.20" r="3.4" fill="#39b54a"/>
<circle cx="385.00" cy="656.40" r="3.4" fill="#39b54a"/>
<circle cx="379.70" cy="658.80" r="3.4" fill="#39b54a"/>
<circle cx="379.70" cy="669.80" r="3.4" fill="#39b54a"/>
<circle cx="426.10" cy="547.30" r="3.4" fill="#c81030"/>
<circle cx="426.10" cy="563.20" r="3.4" fill="#c81030"/>
<circle cx="426.10" cy="590.80" r="3.4" fill="#c81030"/>
<circle cx="426.10" cy="611.20" r="3.4" fill="#c81030"/>
<circle cx="422.10" cy="620.60" r="3.4" fill="#c81030"/>
<circle cx="429.60" cy="620.90" r="3.4" fill="#c81030"/>
<circle cx="415.30" cy="640.10" r="3.4" fill="#c81030"/>
<circle cx="429.40" cy="639.20" r="3.4" fill="#c81030"/>
<circle cx="422.50" cy="644.50" r="3.4" fill="#c81030"/>
<circle cx="429.40" cy="645.00" r="3.4" fill="#c81030"/>
<circle cx="436.70" cy="645.40" r="3.4" fill="#c81030"/>
<circle cx="415.30" cy="647.20" r="3.4" fill="#c81030"/>
<circle cx="429.40" cy="651.40" r="3.4" fill="#c81030"/>
<circle cx="436.70" cy="651.40" r="3.4" fill="#c81030"/>
<circle cx="422.50" cy="654.10" r="3.4" fill="#c81030"/>
<circle cx="415.30" cy="664.00" r="3.4" fill="#c81030"/>
<circle cx="422.50" cy="661.80" r="3.4" fill="#c81030"/>
<circle cx="429.40" cy="665.70" r="3.4" fill="#c81030"/>
<circle cx="436.70" cy="668.40" r="3.4" fill="#c81030"/>
<circle cx="415.30" cy="671.00" r="3.4" fill="#c81030"/>
<circle cx="429.40" cy="673.70" r="3.4" fill="#c81030"/>
<circle cx="422.50" cy="676.60" r="3.4" fill="#c81030"/>
<circle cx="466.90" cy="649.50" r="3.4" fill="#14508c"/>
<circle cx="470.30" cy="652.50" r="3.4" fill="#14508c"/>
<circle cx="476.40" cy="650.00" r="3.4" fill="#14508c"/>
<circle cx="476.00" cy="658.20" r="3.4" fill="#14508c"/>
<circle cx="473.40" cy="660.30" r="3.4" fill="#14508c"/>
<circle cx="482.90" cy="662.90" r="3.4" fill="#14508c"/>
<circle cx="470.80" cy="666.00" r="3.4" fill="#14508c"/>
<circle cx="476.00" cy="665.10" r="3.4" fill="#14508c"/>
<circle cx="463.50" cy="669.00" r="3.4" fill="#14508c"/>
<circle cx="466.00" cy="668.50" r="3.4" fill="#14508c"/>
<circle cx="470.80" cy="669.40" r="3.4" fill="#14508c"/>
<circle cx="476.00" cy="669.40" r="3.4" fill="#14508c"/>
<circle cx="482.00" cy="669.40" r="3.4" fill="#14508c"/>
<circle cx="462.00" cy="671.50" r="3.4" fill="#14508c"/>
<circle cx="467.30" cy="672.90" r="3.4" fill="#14508c"/>
<circle cx="472.10" cy="673.30" r="3.4" fill="#14508c"/>
<circle cx="478.50" cy="672.90" r="3.4" fill="#14508c"/>
<circle cx="482.90" cy="675.00" r="3.4" fill="#14508c"/>
<circle cx="462.20" cy="678.00" r="3.4" fill="#14508c"/>
<circle cx="467.30" cy="676.30" r="3.4" fill="#14508c"/>
<circle cx="472.50" cy="676.30" r="3.4" fill="#14508c"/>
<circle cx="477.70" cy="678.10" r="3.4" fill="#14508c"/>
<circle cx="474.20" cy="680.70" r="3.4" fill="#14508c"/>
<circle cx="466.90" cy="684.10" r="3.4" fill="#14508c"/>
<circle cx="474.00" cy="681.50" r="3.4" fill="#14508c"/>
<line x1="374.80" y1="473.80" x2="477.20" y2="473.80" stroke="#000" stroke-width="2"/>
<line x1="375.80" y1="469.80" x2="375.80" y2="477.80" stroke="#000" stroke-width="2"/>
<line x1="476.20" y1="469.80" x2="476.20" y2="477.80" stroke="#000" stroke-width="2"/>
<text x="425.05" y="467.40" font-size="14" text-anchor="middle" fill="#c8102e" textLength="55.0" lengthAdjust="spacingAndGlyphs">&lt;0.0001</text>
<line x1="378.70" y1="500.00" x2="422.90" y2="500.00" stroke="#000" stroke-width="2"/>
<line x1="379.70" y1="496.00" x2="379.70" y2="504.00" stroke="#000" stroke-width="2"/>
<line x1="421.90" y1="496.00" x2="421.90" y2="504.00" stroke="#000" stroke-width="2"/>
<text x="398.30" y="493.60" font-size="14" text-anchor="middle" fill="#c8102e" textLength="37.1" lengthAdjust="spacingAndGlyphs">0.008</text>
<line x1="425.50" y1="500.00" x2="473.20" y2="500.00" stroke="#000" stroke-width="2"/>
<line x1="426.50" y1="496.00" x2="426.50" y2="504.00" stroke="#000" stroke-width="2"/>
<line x1="472.20" y1="496.00" x2="472.20" y2="504.00" stroke="#000" stroke-width="2"/>
<text x="448.45" y="493.60" font-size="14" text-anchor="middle" fill="#c8102e" textLength="52.2" lengthAdjust="spacingAndGlyphs">&lt;0.0001</text>
<text x="14.20" y="818.30" font-size="22.4" font-weight="bold" stroke="#000" stroke-width="0.9">E</text>
<text x="165.50" y="813.80" font-size="16.3" text-anchor="middle" textLength="87.7" lengthAdjust="spacingAndGlyphs">DN memory</text>
<text x="165.50" y="834.20" font-size="16.3" text-anchor="middle" textLength="102.7" lengthAdjust="spacing">(lgD−CD38−)</text>
<rect x="107.75" y="1038.75" width="24.50" height="37.75" fill="#9bd9a2"/>
<rect x="154.15" y="1035.30" width="24.50" height="41.20" fill="#de8696"/>
<rect x="200.35" y="1069.70" width="24.50" height="6.80" fill="#8aa8c4"/>
<line x1="86.10" y1="872.00" x2="86.10" y2="1077.50" stroke="#000" stroke-width="2"/>
<line x1="79.60" y1="1076.50" x2="86.10" y2="1076.50" stroke="#000" stroke-width="2"/>
<text x="74.10" y="1082.00" font-size="15.5" text-anchor="end" textLength="9.61" lengthAdjust="spacingAndGlyphs">0</text>
<line x1="79.60" y1="1027.50" x2="86.10" y2="1027.50" stroke="#000" stroke-width="2"/>
<text x="74.10" y="1033.00" font-size="15.5" text-anchor="end" textLength="19.22" lengthAdjust="spacingAndGlyphs">10</text>
<line x1="79.60" y1="978.50" x2="86.10" y2="978.50" stroke="#000" stroke-width="2"/>
<text x="74.10" y="984.00" font-size="15.5" text-anchor="end" textLength="19.22" lengthAdjust="spacingAndGlyphs">20</text>
<line x1="79.60" y1="929.50" x2="86.10" y2="929.50" stroke="#000" stroke-width="2"/>
<text x="74.10" y="935.00" font-size="15.5" text-anchor="end" textLength="19.22" lengthAdjust="spacingAndGlyphs">30</text>
<line x1="79.60" y1="880.50" x2="86.10" y2="880.50" stroke="#000" stroke-width="2"/>
<text x="74.10" y="886.00" font-size="15.5" text-anchor="end" textLength="19.22" lengthAdjust="spacingAndGlyphs">40</text>
<line x1="85.10" y1="1076.50" x2="245.00" y2="1076.50" stroke="#000" stroke-width="2"/>
<line x1="120.00" y1="1076.50" x2="120.00" y2="1083.00" stroke="#000" stroke-width="2"/>
<line x1="166.40" y1="1076.50" x2="166.40" y2="1083.00" stroke="#000" stroke-width="2"/>
<line x1="212.60" y1="1076.50" x2="212.60" y2="1083.00" stroke="#000" stroke-width="2"/>
<text x="128.60" y="1095.20" font-size="17.5" text-anchor="end"  transform="rotate(-45 128.60 1095.20)">HC</text>
<text x="175.10" y="1094.50" font-size="16.5" text-anchor="end" textLength="74.5" lengthAdjust="spacingAndGlyphs" transform="rotate(-45 175.10 1094.50)">Acute TTP</text>
<text x="219.10" y="1092.90" font-size="16.5" text-anchor="end" textLength="86" lengthAdjust="spacingAndGlyphs" transform="rotate(-45 219.10 1092.90)">A13 relapse</text>
<circle cx="120.00" cy="919.10" r="3.4" fill="#39b54a"/>
<circle cx="120.00" cy="925.20" r="3.4" fill="#39b54a"/>
<circle cx="120.00" cy="940.60" r="3.4" fill="#39b54a"/>
<circle cx="120.00" cy="984.60" r="3.4" fill="#39b54a"/>
<circle cx="121.40" cy="1006.50" r="3.4" fill="#39b54a"/>
<circle cx="118.10" cy="1008.50" r="3.4" fill="#39b54a"/>
<circle cx="120.20" cy="1015.20" r="3.4" fill="#39b54a"/>
<circle cx="117.30" cy="1020.50" r="3.4" fill="#39b54a"/>
<circle cx="122.90" cy="1023.80" r="3.4" fill="#39b54a"/>
<circle cx="118.10" cy="1029.10" r="3.4" fill="#39b54a"/>
<circle cx="114.20" cy="1032.00" r="3.4" fill="#39b54a"/>
<circle cx="109.90" cy="1035.40" r="3.4" fill="#39b54a"/>
<circle cx="116.60" cy="1034.90" r="3.4" fill="#39b54a"/>
<circle cx="127.20" cy="1032.00" r="3.4" fill="#39b54a"/>
<circle cx="123.80" cy="1035.40" r="3.4" fill="#39b54a"/>
<circle cx="130.60" cy="1035.40" r="3.4" fill="#39b54a"/>
<circle cx="120.20" cy="1035.40" r="3.4" fill="#39b54a"/>
<circle cx="116.20" cy="1039.70" r="3.4" fill="#39b54a"/>
<circle cx="121.40" cy="1042.10" r="3.4" fill="#39b54a"/>
<circle cx="118.10" cy="1050.60" r="3.4" fill="#39b54a"/>
<circle cx="122.40" cy="1049.80" r="3.4" fill="#39b54a"/>
<circle cx="115.70" cy="1056.10" r="3.4" fill="#39b54a"/>
<circle cx="121.00" cy="1059.00" r="3.4" fill="#39b54a"/>
<circle cx="124.80" cy="1059.00" r="3.4" fill="#39b54a"/>
<circle cx="115.70" cy="1063.50" r="3.4" fill="#39b54a"/>
<circle cx="166.30" cy="939.80" r="3.4" fill="#c81030"/>
<circle cx="166.30" cy="958.20" r="3.4" fill="#c81030"/>
<circle cx="162.90" cy="991.00" r="3.4" fill="#c81030"/>
<circle cx="169.90" cy="991.80" r="3.4" fill="#c81030"/>
<circle cx="170.10" cy="1002.40" r="3.4" fill="#c81030"/>
<circle cx="162.90" cy="1006.90" r="3.4" fill="#c81030"/>
<circle cx="169.90" cy="1016.10" r="3.4" fill="#c81030"/>
<circle cx="162.90" cy="1018.60" r="3.4" fill="#c81030"/>
<circle cx="166.30" cy="1023.90" r="3.4" fill="#c81030"/>
<circle cx="169.90" cy="1032.50" r="3.4" fill="#c81030"/>
<circle cx="176.70" cy="1031.80" r="3.4" fill="#c81030"/>
<circle cx="162.90" cy="1036.60" r="3.4" fill="#c81030"/>
<circle cx="156.20" cy="1042.80" r="3.4" fill="#c81030"/>
<circle cx="169.90" cy="1039.80" r="3.4" fill="#c81030"/>
<circle cx="176.70" cy="1042.10" r="3.4" fill="#c81030"/>
<circle cx="163.30" cy="1044.90" r="3.4" fill="#c81030"/>
<circle cx="169.90" cy="1045.50" r="3.4" fill="#c81030"/>
<circle cx="156.20" cy="1049.90" r="3.4" fill="#c81030"/>
<circle cx="169.90" cy="1051.00" r="3.4" fill="#c81030"/>
<circle cx="176.70" cy="1049.00" r="3.4" fill="#c81030"/>
<circle cx="166.30" cy="1062.30" r="3.4" fill="#c81030"/>
<circle cx="166.30" cy="1068.60" r="3.4" fill="#c81030"/>
<circle cx="212.70" cy="1017.40" r="3.4" fill="#14508c"/>
<circle cx="212.70" cy="1048.10" r="3.4" fill="#14508c"/>
<circle cx="212.70" cy="1050.70" r="3.4" fill="#14508c"/>
<circle cx="208.60" cy="1057.60" r="3.4" fill="#14508c"/>
<circle cx="216.80" cy="1058.00" r="3.4" fill="#14508c"/>
<circle cx="212.70" cy="1058.00" r="3.4" fill="#14508c"/>
<circle cx="202.10" cy="1065.40" r="3.4" fill="#14508c"/>
<circle cx="206.40" cy="1065.40" r="3.4" fill="#14508c"/>
<circle cx="212.70" cy="1065.40" r="3.4" fill="#14508c"/>
<circle cx="219.40" cy="1065.40" r="3.4" fill="#14508c"/>
<circle cx="223.30" cy="1068.40" r="3.4" fill="#14508c"/>
<circle cx="205.10" cy="1069.70" r="3.4" fill="#14508c"/>
<circle cx="209.00" cy="1069.70" r="3.4" fill="#14508c"/>
<circle cx="216.00" cy="1069.70" r="3.4" fill="#14508c"/>
<circle cx="212.70" cy="1071.40" r="3.4" fill="#14508c"/>
<circle cx="210.80" cy="1076.60" r="3.4" fill="#14508c"/>
<circle cx="208.60" cy="1061.90" r="3.4" fill="#14508c"/>
<circle cx="216.00" cy="1061.90" r="3.4" fill="#14508c"/>
<line x1="115.50" y1="866.60" x2="217.60" y2="866.60" stroke="#000" stroke-width="2"/>
<line x1="116.50" y1="862.60" x2="116.50" y2="870.60" stroke="#000" stroke-width="2"/>
<line x1="216.60" y1="862.60" x2="216.60" y2="870.60" stroke="#000" stroke-width="2"/>
<text x="165.60" y="859.90" font-size="14" text-anchor="middle" fill="#c8102e" textLength="54.9" lengthAdjust="spacingAndGlyphs">&lt;0.0001</text>
<line x1="119.00" y1="891.90" x2="165.20" y2="891.90" stroke="#000" stroke-width="2"/>
<line x1="120.00" y1="887.90" x2="120.00" y2="895.90" stroke="#000" stroke-width="2"/>
<line x1="164.20" y1="887.90" x2="164.20" y2="895.90" stroke="#000" stroke-width="2"/>
<text x="142.05" y="885.50" font-size="14" text-anchor="middle" fill="#000" textLength="15.6" lengthAdjust="spacingAndGlyphs">ns</text>
<line x1="168.30" y1="891.90" x2="213.20" y2="891.90" stroke="#000" stroke-width="2"/>
<line x1="169.30" y1="887.90" x2="169.30" y2="895.90" stroke="#000" stroke-width="2"/>
<line x1="212.20" y1="887.90" x2="212.20" y2="895.90" stroke="#000" stroke-width="2"/>
<text x="190.40" y="885.50" font-size="14" text-anchor="middle" fill="#c8102e" textLength="55.1" lengthAdjust="spacingAndGlyphs">&lt;0.0001</text>
<text x="293.60" y="818.30" font-size="22.4" font-weight="bold" stroke="#000" stroke-width="0.9">F</text>
<text x="426.00" y="813.80" font-size="16.3" text-anchor="middle" textLength="96.3" lengthAdjust="spacingAndGlyphs">Plasmablasts</text>
<text x="426.00" y="834.20" font-size="16.3" text-anchor="middle" textLength="116.9" lengthAdjust="spacing">(lgD−CD38++)</text>
<rect x="367.55" y="1069.00" width="24.50" height="7.50" fill="#9bd9a2"/>
<rect x="413.35" y="1057.20" width="24.50" height="19.30" fill="#de8696"/>
<rect x="459.35" y="1066.20" width="24.50" height="10.30" fill="#8aa8c4"/>
<line x1="346.80" y1="951.50" x2="346.80" y2="1077.50" stroke="#000" stroke-width="2"/>
<line x1="342.60" y1="951.50" x2="351.30" y2="951.50" stroke="#000" stroke-width="2"/>
<line x1="340.30" y1="1076.50" x2="346.80" y2="1076.50" stroke="#000" stroke-width="2"/>
<text x="334.80" y="1082.00" font-size="15.5" text-anchor="end" textLength="9.61" lengthAdjust="spacingAndGlyphs">0</text>
<line x1="340.30" y1="1051.50" x2="346.80" y2="1051.50" stroke="#000" stroke-width="2"/>
<text x="334.80" y="1057.00" font-size="15.5" text-anchor="end" textLength="9.61" lengthAdjust="spacingAndGlyphs">2</text>
<line x1="340.30" y1="1026.50" x2="346.80" y2="1026.50" stroke="#000" stroke-width="2"/>
<text x="334.80" y="1032.00" font-size="15.5" text-anchor="end" textLength="9.61" lengthAdjust="spacingAndGlyphs">4</text>
<line x1="340.30" y1="1001.50" x2="346.80" y2="1001.50" stroke="#000" stroke-width="2"/>
<text x="334.80" y="1007.00" font-size="15.5" text-anchor="end" textLength="9.61" lengthAdjust="spacingAndGlyphs">6</text>
<line x1="340.30" y1="976.50" x2="346.80" y2="976.50" stroke="#000" stroke-width="2"/>
<text x="334.80" y="982.00" font-size="15.5" text-anchor="end" textLength="9.61" lengthAdjust="spacingAndGlyphs">8</text>
<text x="334.80" y="959.30" font-size="15.5" text-anchor="end" textLength="19.22" lengthAdjust="spacingAndGlyphs">10</text>
<line x1="346.80" y1="920.20" x2="346.80" y2="940.80" stroke="#000" stroke-width="2"/>
<line x1="342.60" y1="920.20" x2="351.30" y2="920.20" stroke="#000" stroke-width="2"/>
<line x1="342.60" y1="940.80" x2="351.30" y2="940.80" stroke="#000" stroke-width="2"/>
<text x="334.80" y="925.70" font-size="15.5" text-anchor="end" textLength="19.22" lengthAdjust="spacingAndGlyphs">16</text>
<text x="334.80" y="945.00" font-size="15.5" text-anchor="end" textLength="19.22" lengthAdjust="spacingAndGlyphs">14</text>
<line x1="346.80" y1="871.50" x2="346.80" y2="906.20" stroke="#000" stroke-width="2"/>
<line x1="342.60" y1="906.20" x2="351.30" y2="906.20" stroke="#000" stroke-width="2"/>
<line x1="340.30" y1="879.60" x2="346.80" y2="879.60" stroke="#000" stroke-width="2"/>
<text x="334.80" y="885.10" font-size="15.5" text-anchor="end" textLength="19.22" lengthAdjust="spacingAndGlyphs">32</text>
<text x="334.80" y="911.70" font-size="15.5" text-anchor="end" textLength="19.22" lengthAdjust="spacingAndGlyphs">30</text>
<line x1="345.80" y1="1076.50" x2="505.00" y2="1076.50" stroke="#000" stroke-width="2"/>
<line x1="379.80" y1="1076.50" x2="379.80" y2="1083.00" stroke="#000" stroke-width="2"/>
<line x1="425.60" y1="1076.50" x2="425.60" y2="1083.00" stroke="#000" stroke-width="2"/>
<line x1="471.60" y1="1076.50" x2="471.60" y2="1083.00" stroke="#000" stroke-width="2"/>
<text x="388.40" y="1095.20" font-size="17.5" text-anchor="end"  transform="rotate(-45 388.40 1095.20)">HC</text>
<text x="434.30" y="1094.50" font-size="16.5" text-anchor="end" textLength="74.5" lengthAdjust="spacingAndGlyphs" transform="rotate(-45 434.30 1094.50)">Acute TTP</text>
<text x="478.10" y="1092.90" font-size="16.5" text-anchor="end" textLength="86" lengthAdjust="spacingAndGlyphs" transform="rotate(-45 478.10 1092.90)">A13 relapse</text>
<circle cx="379.70" cy="1045.40" r="3.4" fill="#39b54a"/>
<circle cx="378.10" cy="1052.10" r="3.4" fill="#39b54a"/>
<circle cx="382.40" cy="1051.60" r="3.4" fill="#39b54a"/>
<circle cx="377.60" cy="1057.90" r="3.4" fill="#39b54a"/>
<circle cx="381.90" cy="1057.90" r="3.4" fill="#39b54a"/>
<circle cx="374.70" cy="1063.20" r="3.4" fill="#39b54a"/>
<circle cx="379.50" cy="1061.70" r="3.4" fill="#39b54a"/>
<circle cx="384.30" cy="1062.20" r="3.4" fill="#39b54a"/>
<circle cx="370.60" cy="1069.40" r="3.4" fill="#39b54a"/>
<circle cx="374.40" cy="1068.00" r="3.4" fill="#39b54a"/>
<circle cx="379.00" cy="1067.50" r="3.4" fill="#39b54a"/>
<circle cx="383.80" cy="1068.00" r="3.4" fill="#39b54a"/>
<circle cx="388.80" cy="1069.20" r="3.4" fill="#39b54a"/>
<circle cx="369.60" cy="1072.80" r="3.4" fill="#39b54a"/>
<circle cx="373.80" cy="1072.60" r="3.4" fill="#39b54a"/>
<circle cx="377.60" cy="1072.80" r="3.4" fill="#39b54a"/>
<circle cx="381.90" cy="1073.20" r="3.4" fill="#39b54a"/>
<circle cx="385.80" cy="1072.80" r="3.4" fill="#39b54a"/>
<circle cx="389.20" cy="1071.40" r="3.4" fill="#39b54a"/>
<circle cx="376.20" cy="1070.40" r="3.4" fill="#39b54a"/>
<circle cx="382.90" cy="1070.40" r="3.4" fill="#39b54a"/>
<circle cx="425.80" cy="924.40" r="3.4" fill="#c81030"/>
<circle cx="425.80" cy="960.40" r="3.4" fill="#c81030"/>
<circle cx="425.40" cy="1017.70" r="3.4" fill="#c81030"/>
<circle cx="425.40" cy="1024.70" r="3.4" fill="#c81030"/>
<circle cx="425.80" cy="1030.90" r="3.4" fill="#c81030"/>
<circle cx="420.10" cy="1043.00" r="3.4" fill="#c81030"/>
<circle cx="425.30" cy="1042.10" r="3.4" fill="#c81030"/>
<circle cx="430.50" cy="1040.80" r="3.4" fill="#c81030"/>
<circle cx="431.00" cy="1046.40" r="3.4" fill="#c81030"/>
<circle cx="419.70" cy="1049.00" r="3.4" fill="#c81030"/>
<circle cx="424.90" cy="1053.40" r="3.4" fill="#c81030"/>
<circle cx="415.40" cy="1059.40" r="3.4" fill="#c81030"/>
<circle cx="421.00" cy="1062.90" r="3.4" fill="#c81030"/>
<circle cx="425.30" cy="1061.10" r="3.4" fill="#c81030"/>
<circle cx="430.50" cy="1060.70" r="3.4" fill="#c81030"/>
<circle cx="435.70" cy="1060.70" r="3.4" fill="#c81030"/>
<circle cx="420.60" cy="1068.10" r="3.4" fill="#c81030"/>
<circle cx="436.60" cy="1068.10" r="3.4" fill="#c81030"/>
<circle cx="424.90" cy="1070.70" r="3.4" fill="#c81030"/>
<circle cx="430.50" cy="1071.10" r="3.4" fill="#c81030"/>
<circle cx="415.40" cy="1072.80" r="3.4" fill="#c81030"/>
<circle cx="435.70" cy="1074.50" r="3.4" fill="#c81030"/>
<circle cx="421.00" cy="1066.30" r="3.4" fill="#c81030"/>
<circle cx="472.10" cy="906.70" r="3.4" fill="#14508c"/>
<circle cx="472.10" cy="975.10" r="3.4" fill="#14508c"/>
<circle cx="472.10" cy="1026.90" r="3.4" fill="#14508c"/>
<circle cx="471.60" cy="1036.50" r="3.4" fill="#14508c"/>
<circle cx="471.20" cy="1043.50" r="3.4" fill="#14508c"/>
<circle cx="476.20" cy="1049.60" r="3.4" fill="#14508c"/>
<circle cx="463.90" cy="1053.10" r="3.4" fill="#14508c"/>
<circle cx="482.00" cy="1053.50" r="3.4" fill="#14508c"/>
<circle cx="479.30" cy="1055.80" r="3.4" fill="#14508c"/>
<circle cx="461.20" cy="1062.70" r="3.4" fill="#14508c"/>
<circle cx="465.10" cy="1059.60" r="3.4" fill="#14508c"/>
<circle cx="470.10" cy="1059.20" r="3.4" fill="#14508c"/>
<circle cx="475.80" cy="1061.90" r="3.4" fill="#14508c"/>
<circle cx="482.40" cy="1062.70" r="3.4" fill="#14508c"/>
<circle cx="464.30" cy="1065.80" r="3.4" fill="#14508c"/>
<circle cx="469.30" cy="1066.50" r="3.4" fill="#14508c"/>
<circle cx="472.80" cy="1065.00" r="3.4" fill="#14508c"/>
<circle cx="478.90" cy="1064.20" r="3.4" fill="#14508c"/>
<circle cx="463.50" cy="1070.40" r="3.4" fill="#14508c"/>
<circle cx="467.40" cy="1070.40" r="3.4" fill="#14508c"/>
<circle cx="472.00" cy="1068.80" r="3.4" fill="#14508c"/>
<circle cx="475.80" cy="1071.20" r="3.4" fill="#14508c"/>
<circle cx="478.90" cy="1072.70" r="3.4" fill="#14508c"/>
<circle cx="464.30" cy="1075.00" r="3.4" fill="#14508c"/>
<circle cx="468.90" cy="1074.20" r="3.4" fill="#14508c"/>
<circle cx="475.80" cy="1075.40" r="3.4" fill="#14508c"/>
<circle cx="472.80" cy="1073.50" r="3.4" fill="#14508c"/>
<line x1="374.80" y1="860.40" x2="473.00" y2="860.40" stroke="#000" stroke-width="2"/>
<line x1="375.80" y1="856.40" x2="375.80" y2="864.40" stroke="#000" stroke-width="2"/>
<line x1="472.00" y1="856.40" x2="472.00" y2="864.40" stroke="#000" stroke-width="2"/>
<text x="424.25" y="853.70" font-size="14" text-anchor="middle" fill="#000" textLength="30.4" lengthAdjust="spacingAndGlyphs">0.06</text>
<line x1="378.70" y1="883.90" x2="423.60" y2="883.90" stroke="#000" stroke-width="2"/>
<line x1="379.70" y1="879.90" x2="379.70" y2="887.90" stroke="#000" stroke-width="2"/>
<line x1="422.60" y1="879.90" x2="422.60" y2="887.90" stroke="#000" stroke-width="2"/>
<text x="400.45" y="878.60" font-size="14" text-anchor="middle" fill="#c8102e" textLength="38.2" lengthAdjust="spacingAndGlyphs">0.007</text>
<line x1="426.70" y1="883.90" x2="477.20" y2="883.90" stroke="#000" stroke-width="2"/>
<line x1="427.70" y1="879.90" x2="427.70" y2="887.90" stroke="#000" stroke-width="2"/>
<line x1="476.20" y1="879.90" x2="476.20" y2="887.90" stroke="#000" stroke-width="2"/>
<text x="451.60" y="878.60" font-size="14" text-anchor="middle" fill="#000" textLength="15.9" lengthAdjust="spacingAndGlyphs">ns</text>
<text transform="translate(42.4 288.10) rotate(-90)" x="0" y="0" font-size="17.5" textLength="62.80" lengthAdjust="spacingAndGlyphs" stroke="#000" stroke-width="0.45">Frequency</text>
<text transform="translate(42.4 220.70) rotate(-90)" x="0" y="0" font-size="17.5" textLength="10.70" lengthAdjust="spacingAndGlyphs" stroke="#000" stroke-width="0.45">of</text>
<text transform="translate(42.4 206.30) rotate(-90)" x="0" y="0" font-size="17.5" textLength="40.30" lengthAdjust="spacingAndGlyphs" stroke="#000" stroke-width="0.45">CD19+</text>
<text transform="translate(42.4 160.40) rotate(-90)" x="0" y="0" font-size="17.5" textLength="8.50" lengthAdjust="spacingAndGlyphs" stroke="#000" stroke-width="0.45">B</text>
<text transform="translate(42.4 148.00) rotate(-90)" x="0" y="0" font-size="17.5" textLength="26.90" lengthAdjust="spacingAndGlyphs" stroke="#000" stroke-width="0.45">cells</text>
<text transform="translate(42.4 116.30) rotate(-90)" x="0" y="0" font-size="17.5" textLength="22.20" lengthAdjust="spacingAndGlyphs" stroke="#000" stroke-width="0.45">(%)</text>
<rect x="1" y="1" width="518" height="1166" fill="none" stroke="#000" stroke-width="2"/>
</svg>
</body></html>
